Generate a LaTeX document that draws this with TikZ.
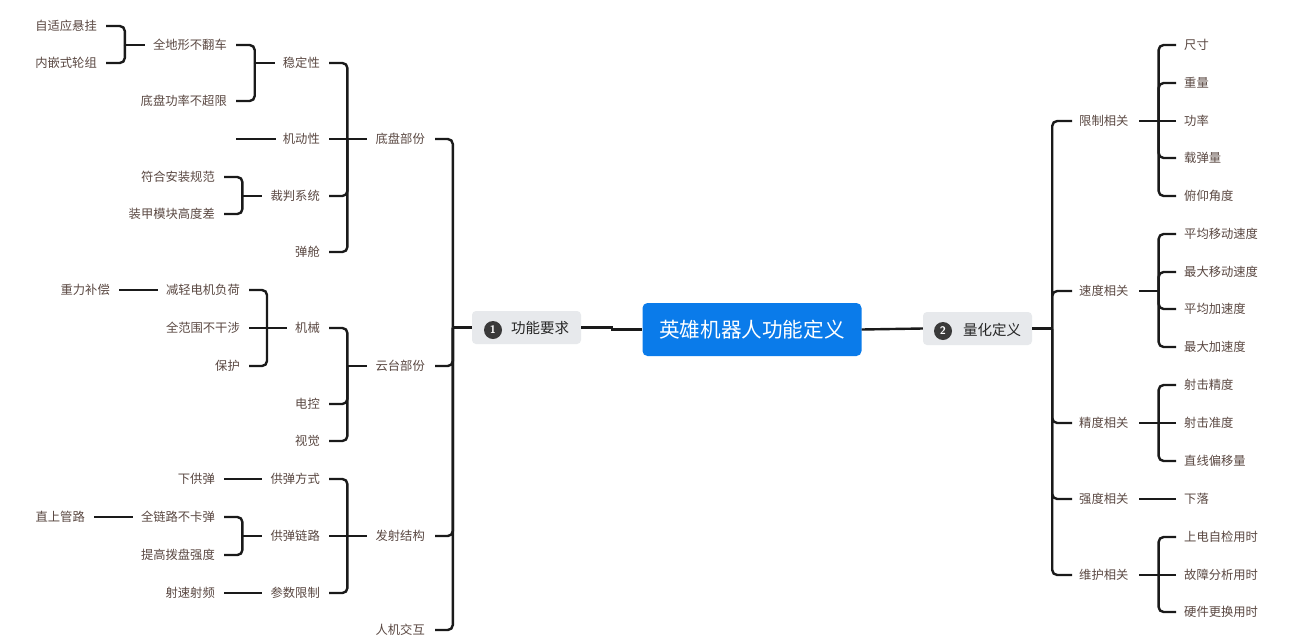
\documentclass[tikz,border=0pt]{standalone}
\usepackage{fontspec}
\newfontfamily\cjk{Noto Sans CJK SC}
\usetikzlibrary{calc}
\definecolor{txt}{HTML}{5A4842}
\definecolor{ln}{HTML}{1A1A1A}
\definecolor{blu}{HTML}{0A7BEA}
\definecolor{tagbg}{HTML}{E7E9EC}
\definecolor{numbg}{HTML}{3A3A3A}
\tikzset{
  lab/.style={inner sep=0pt, text=txt, font=\cjk\fontsize{12.3}{14}\selectfont},
  lL/.style={lab, anchor=east},
  lR/.style={lab, anchor=west},
  conn/.style={draw=ln, line width=2.4pt, rounded corners=5pt},
  tagbox/.style={fill=tagbg, rounded corners=4pt, minimum width=109pt, minimum height=33pt, inner sep=0pt},
  numc/.style={circle, fill=numbg, text=white, minimum size=18pt, inner sep=0pt, font=\fontsize{11}{12}\selectfont\sffamily\bfseries},
  tagtxt/.style={inner sep=0pt, text=black!85, anchor=west, font=\cjk\fontsize{14.5}{16}\selectfont},
  centre/.style={fill=blu, rounded corners=5pt, minimum width=219pt, minimum height=53pt, inner sep=0pt, text=white, font=\cjk\fontsize{20.6}{24}\selectfont}
}
% left side: child #1 -> parent #2 (bracket at parent.west - 28)
\newcommand\lbr[2]{%
  \draw[conn] ([xshift=9pt]#1.east) -| ($(#2.west)+(-28,0)$);
  \draw[conn] ($(#2.west)+(-28,0)$) -- ([xshift=-8pt]#2.west);}
\newcommand\lstr[2]{\draw[conn] ([xshift=9pt]#1.east) -- ([xshift=-8pt]#2.west);}
% right side: child #1 <- parent #2 (bracket at parent.east + 30)
\newcommand\rbr[2]{%
  \draw[conn] ([xshift=-8pt]#1.west) -| ($(#2.east)+(30,0)$);
  \draw[conn] ($(#2.east)+(30,0)$) -- ([xshift=10pt]#2.east);}
\newcommand\rstr[2]{\draw[conn] ([xshift=-8pt]#1.west) -- ([xshift=10pt]#2.east);}
\begin{document}
\begin{tikzpicture}[x=1pt,y=-1pt]
\useasboundingbox (0,0) rectangle (1290,635);
\clip (0,0) rectangle (1290,635);
\fill[white] (0,0) rectangle (1290,635);

% centre
\node[centre] (c) at (752,329.5) {英雄机器人功能定义};
\node[tagbox] (f) at (526.5,327.5) {};
\node[numc] (f1) at (493,330) {1};
\node[tagtxt] (ft) at (511,328) {功能要求};
\node[tagbox] (q) at (977.5,328.5) {};
\node[numc] (q1) at (943,331) {2};
\node[tagtxt] (qt) at (963,330) {量化定义};
\draw[draw=ln, line width=2.4pt] (f.east) -- ++(31,0) coordinate (fm) |- (c.west);
\draw[draw=ln, line width=2.4pt] (c.east) -- (q.west);

% left level 1
\node[lL] (dp) at (425,139) {底盘部份};
\node[lL] (yt) at (425,366) {云台部份};
\node[lL] (fs) at (425,536) {发射结构};
\node[lL] (rj) at (425,630) {人机交互};
% left level 2
\node[lL] (wd) at (320,63) {稳定性};
\node[lL] (jd) at (320,139) {机动性};
\node[lL] (cp) at (320,196) {裁判系统};
\node[lL] (dc) at (320,252) {弹舱};
\node[lL] (jx) at (320,328) {机械};
\node[lL] (dk) at (320,404) {电控};
\node[lL] (sj) at (320,441) {视觉};
\node[lL] (gf) at (320,479) {供弹方式};
\node[lL] (gl) at (320,536) {供弹链路};
\node[lL] (cs) at (320,593) {参数限制};
% left level 3
\node[lL] (qd) at (227,45) {全地形不翻车};
\node[lL] (gl2) at (227,101) {底盘功率不超限};
\node[lL] (fh) at (215,177) {符合安装规范};
\node[lL] (zj) at (215,214) {装甲模块高度差};
\node[lL] (jq) at (240,290) {减轻电机负荷};
\node[lL] (qf) at (240,328) {全范围不干涉};
\node[lL] (bh) at (240,366) {保护};
\node[lL] (xg) at (215,479) {下供弹};
\node[lL] (ql) at (215,517) {全链路不卡弹};
\node[lL] (tg) at (215,555) {提高拨盘强度};
\node[lL] (ss) at (215,593) {射速射频};
% left level 4
\node[lL] (zs) at (97,26) {自适应悬挂};
\node[lL] (nq) at (97,63) {内嵌式轮组};
\node[lL] (zl) at (110,290) {重力补偿};
\node[lL] (zg) at (85,517) {直上管路};
\coordinate (jdend) at (236,139);

% left connectors level 1
\foreach \n in {dp,yt,fs,rj}{
  \draw[conn] ([xshift=10pt]\n.east) -| ($(f.west)+(-19,0)$);}
\draw[conn] ($(f.west)+(-19,0)$) -- (f.west);
% level 2
\lbr{wd}{dp}\lstr{jd}{dp}\lbr{cp}{dp}\lbr{dc}{dp}
\lbr{jx}{yt}\lbr{dk}{yt}\lbr{sj}{yt}
\lbr{gf}{fs}\lstr{gl}{fs}\lbr{cs}{fs}
% level 3
\lbr{qd}{wd}\lbr{gl2}{wd}
\draw[conn] (jdend) -- ([xshift=-7pt]jd.west);
\lbr{fh}{cp}\lbr{zj}{cp}
\lbr{jq}{jx}\lstr{qf}{jx}\lbr{bh}{jx}
\lstr{xg}{gf}
\lbr{ql}{gl}\lbr{tg}{gl}
\lstr{ss}{cs}
% level 4
\lbr{zs}{qd}\lbr{nq}{qd}
\lstr{zl}{jq}
\lstr{zg}{ql}

% right level 1
\node[lR] (xz) at (1079,121) {限制相关};
\node[lR] (sd) at (1079,291) {速度相关};
\node[lR] (jdx) at (1079,423) {精度相关};
\node[lR] (qdx) at (1079,499) {强度相关};
\node[lR] (wh) at (1079,575) {维护相关};
% right level 2
\node[lR] (r1) at (1184,45) {尺寸};
\node[lR] (r2) at (1184,83) {重量};
\node[lR] (r3) at (1184,121) {功率};
\node[lR] (r4) at (1184,158) {载弹量};
\node[lR] (r5) at (1184,196) {俯仰角度};
\node[lR] (r6) at (1184,234) {平均移动速度};
\node[lR] (r7) at (1184,272) {最大移动速度};
\node[lR] (r8) at (1184,309) {平均加速度};
\node[lR] (r9) at (1184,347) {最大加速度};
\node[lR] (r10) at (1184,385) {射击精度};
\node[lR] (r11) at (1184,423) {射击准度};
\node[lR] (r12) at (1184,461) {直线偏移量};
\node[lR] (r13) at (1184,499) {下落};
\node[lR] (r14) at (1184,537) {上电自检用时};
\node[lR] (r15) at (1184,575) {故障分析用时};
\node[lR] (r16) at (1184,612) {硬件更换用时};

% right connectors level 1
\foreach \n in {xz,sd,jdx,qdx,wh}{
  \draw[conn] ([xshift=-7pt]\n.west) -| ($(q.east)+(20,0)$);}
\draw[conn] ($(q.east)+(20,0)$) -- (q.east);
% level 2
\rbr{r1}{xz}\rbr{r2}{xz}\rstr{r3}{xz}\rbr{r4}{xz}\rbr{r5}{xz}
\rbr{r6}{sd}\rbr{r7}{sd}\rbr{r8}{sd}\rbr{r9}{sd}
\rbr{r10}{jdx}\rstr{r11}{jdx}\rbr{r12}{jdx}
\rstr{r13}{qdx}
\rbr{r14}{wh}\rstr{r15}{wh}\rbr{r16}{wh}
\end{tikzpicture}
\end{document}
